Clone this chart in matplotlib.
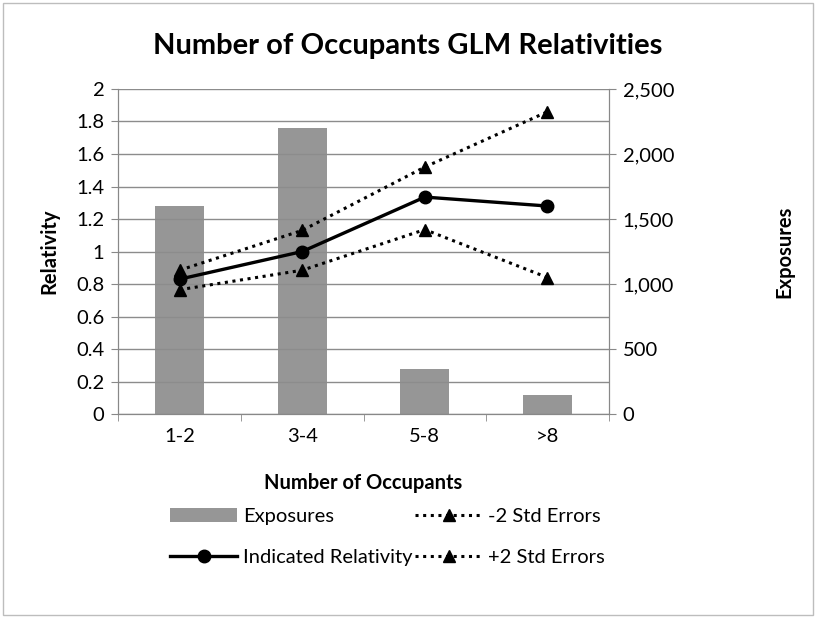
import numpy as np
import matplotlib
matplotlib.use("Agg")
import matplotlib.pyplot as plt
from matplotlib.patches import Rectangle

plt.rcParams['font.family'] = ['Lato', 'DejaVu Sans']

categories = ['1-2', '3-4', '5-8', '>8']
exposures = [1600, 2200, 345, 148]
relativity = [0.83, 1.00, 1.335, 1.28]
minus2 = [0.765, 0.885, 1.135, 0.84]
plus2 = [0.885, 1.13, 1.52, 1.86]

fs = 14.5

fig = plt.figure(figsize=(8.16, 6.18), dpi=100)
fig.patches.append(Rectangle((0.004, 0.005), 0.992, 0.99, transform=fig.transFigure,
                             fill=False, edgecolor='#bdbdbd', linewidth=1))

ax = fig.add_axes([0.145, 0.330, 0.601, 0.526])
ax2 = ax.twinx()
ax.set_zorder(ax2.get_zorder() + 1)
ax.patch.set_visible(False)

x = np.arange(len(categories))
bars = ax2.bar(x, exposures, width=0.4, color='#969696', label='Exposures')
ax2.set_ylim(0, 2500)
ax2.set_yticks(np.arange(0, 2501, 500))
ax2.set_yticklabels([f'{v:,}' for v in range(0, 2501, 500)])

l1, = ax.plot(x, relativity, color='black', lw=2.4, marker='o', ms=9, label='Indicated Relativity')
l2, = ax.plot(x, minus2, color='black', lw=2.2, ls=(0, (1, 1.5)), marker='^', ms=9, label='-2 Std Errors')
l3, = ax.plot(x, plus2, color='black', lw=2.2, ls=(0, (1, 1.5)), marker='^', ms=9, label='+2 Std Errors')

ax.set_ylim(0, 2)
ax.set_yticks(np.arange(0, 2.01, 0.2))
ax.set_yticklabels(['0', '0.2', '0.4', '0.6', '0.8', '1', '1.2', '1.4', '1.6', '1.8', '2'])
ax.set_xlim(-0.5, len(categories) - 0.5)
ax.set_xticks(x)
ax.set_xticklabels(categories)
ax.set_xticks(np.arange(-0.5, len(categories), 1), minor=True)
ax.tick_params(axis='x', which='major', length=0, pad=10, labelsize=fs)
ax.tick_params(axis='x', which='minor', length=5, color='#888888')
ax.tick_params(axis='y', length=5, color='#888888', labelsize=fs, pad=5)
ax2.tick_params(axis='y', length=5, color='#888888', labelsize=fs, pad=5)
ax.yaxis.grid(True, color='#8c8c8c', lw=1)
ax.set_axisbelow(True)

for a in (ax, ax2):
    a.spines['top'].set_visible(False)
    for s in ('left', 'right', 'bottom'):
        a.spines[s].set_color('#888888')

ax.set_ylabel('Relativity', fontsize=fs, fontweight='bold', labelpad=12)
ax2.set_ylabel('Exposures', fontsize=fs, fontweight='bold', labelpad=72)
ax.set_xlabel('Number of Occupants', fontsize=fs, fontweight='bold', labelpad=20)
fig.text(0.5, 0.925, 'Number of Occupants GLM Relativities', ha='center', va='center',
         fontsize=21, fontweight='bold')

fig.legend([bars, l1, l2, l3], ['Exposures', 'Indicated Relativity', '-2 Std Errors', '+2 Std Errors'],
           ncol=2, loc='center', bbox_to_anchor=(0.475, 0.131), frameon=False,
           fontsize=fs, handlelength=3.3, columnspacing=0.15, handletextpad=0.3, labelspacing=1.2)

fig.savefig('out.png', dpi=100)
